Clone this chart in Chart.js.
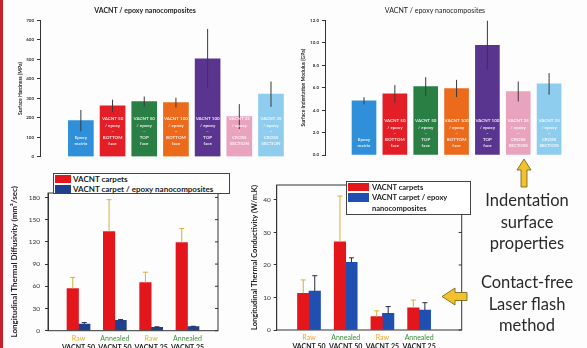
<!DOCTYPE html>
<html>
<head>
<meta charset="utf-8">
<script src="https://cdn.jsdelivr.net/npm/chart.js@4.4.1/dist/chart.umd.min.js"></script>
<style>
  body { margin: 0; background: #fff; font-family: Lato, "Open Sans", sans-serif; }
  #page { position: relative; width: 587px; height: 348px; overflow: hidden; background: #fdfdfd; }
  .stripe { position: absolute; left: 0; top: 0; width: 3px; height: 348px; background: #c8202c; }
  .box { position: absolute; }
  .legend { position: absolute; background: #fff; border: 1px solid #444; color: #222; font-weight: bold; }
  .legend .sw { position: absolute; }
  .legend .tx { position: absolute; white-space: nowrap; line-height: 1; }
  .side { position: absolute; left: 470px; width: 114px; text-align: center; color: #2a2a2a;
          font-size: 16.5px; line-height: 21.5px; }
  svg { position: absolute; left: 0; top: 0; }
</style>
</head>
<body>
<div id="page">
  <div class="stripe"></div>
  <div class="box" style="left:0;top:0;width:295px;height:165px"><canvas id="hardChart"></canvas></div>
  <div class="box" style="left:295px;top:0;width:287px;height:165px"><canvas id="modChart"></canvas></div>
  <div class="box" style="left:0;top:165px;width:250px;height:183px"><canvas id="diffChart"></canvas></div>
  <div class="box" style="left:250px;top:165px;width:225px;height:183px"><canvas id="condChart"></canvas></div>

  <div class="legend" style="left:53px;top:173px;width:175px;height:19px;font-size:8px">
    <div class="sw" style="left:1px;top:1px;width:16px;height:8px;background:#e3161c"></div>
    <div class="tx" style="left:19px;top:1px">VACNT carpets</div>
    <div class="sw" style="left:1px;top:11px;width:16px;height:8px;background:#1f3f8f"></div>
    <div class="tx" style="left:19px;top:11px">VACNT carpet / epoxy nanocomposites</div>
  </div>
  <div class="legend" style="left:346px;top:181px;width:123px;height:32px;font-size:7.5px">
    <div class="sw" style="left:1px;top:1px;width:21px;height:8px;background:#e3161c"></div>
    <div class="tx" style="left:25px;top:1.5px">VACNT carpets</div>
    <div class="sw" style="left:1px;top:11px;width:21px;height:9px;background:#1f4fb0"></div>
    <div class="tx" style="left:25px;top:12px">VACNT carpet / epoxy</div>
    <div class="tx" style="left:25px;top:22.5px">nanocomposites</div>
  </div>

  <div class="side" style="top:190px">Indentation<br>surface<br>properties</div>
  <div class="side" style="top:272px">Contact-free<br>Laser flash<br>method</div>

  <svg width="587" height="348">
    <polygon points="524,159 531,170 527,170 527,187 521,187 521,170 517,170"
             fill="#f2c12e" stroke="#6b5a1a" stroke-width="0.8"/>
    <polygon points="442,296.5 455,288 455,292.5 467,292.5 467,300.5 455,300.5 455,305"
             fill="#f2c12e" stroke="#6b5a1a" stroke-width="0.8"/>
  </svg>
</div>

<script>
// Indentation charts (7 samples)
const sampleLines = [
  ['Epoxy', 'matrix'],
  ['VACNT 50', '/ epoxy', '–', 'BOTTOM', 'face'],
  ['VACNT 50', '/ epoxy', '–', 'TOP', 'face'],
  ['VACNT 100', '/ epoxy', '–', 'BOTTOM', 'face'],
  ['VACNT 100', '/ epoxy', '–', 'TOP', 'face'],
  ['VACNT 25', '/ epoxy', '–', 'CROSS', 'SECTION'],
  ['VACNT 35', '/ epoxy', '–', 'CROSS', 'SECTION']
];
const sampleColors = ['#2f8fd8', '#e41e26', '#2a7f44', '#ec6a1c', '#5a3590', '#eaa3bd', '#8fcdef'];
const hardness = [185, 261, 283, 278, 503, 206, 321];
const hardnessErr = [55, 32, 26, 25, 153, 64, 65];
const modulus = [4.83, 5.45, 6.10, 5.93, 9.77, 5.66, 6.34];
const modulusErr = [0.32, 0.78, 0.84, 0.77, 2.2, 0.89, 0.96];

// Laser flash charts (4 samples)
const flashStates = ['Raw', 'Annealed', 'Raw', 'Annealed'];
const flashSamples = ['VACNT 50', 'VACNT 50', 'VACNT 25', 'VACNT 25'];
const diffCarpet = [57, 134, 65, 119];
const diffCarpetErr = [15, 43, 14, 19];
const diffComposite = [9, 14, 4.5, 5.4];
const diffCompositeErr = [2, 1, 0.8, 0.6];
const condCarpet = [11.3, 27.1, 4.1, 6.8];
const condCarpetErr = [4.1, 14.1, 1.8, 2.4];
const condComposite = [12.0, 20.8, 5.1, 6.1];
const condCompositeErr = [4.7, 1.4, 2.1, 2.3];

const points = arr => arr.map((v, i) => ({ x: i, y: v }));
const FONT = 'Lato, "Open Sans", sans-serif';

// error bars, drawn from the y scale
const errorBars = {
  id: 'errorBars',
  afterDatasetsDraw(chart) {
    const ctx = chart.ctx;
    const y = chart.scales.y;
    chart.data.datasets.forEach((ds, di) => {
      if (!ds.errors) return;
      chart.getDatasetMeta(di).data.forEach((bar, i) => {
        const v = ds.data[i].y, e = ds.errors[i];
        const top = y.getPixelForValue(v + e);
        const bot = ds.errorBoth ? y.getPixelForValue(v - e) : bar.y;
        ctx.save();
        ctx.strokeStyle = ds.errorColor;
        ctx.lineWidth = 1;
        ctx.beginPath();
        ctx.moveTo(bar.x, bot);
        ctx.lineTo(bar.x, top);
        if (ds.errorCap) {
          ctx.moveTo(bar.x - ds.errorCap, top);
          ctx.lineTo(bar.x + ds.errorCap, top);
        }
        ctx.stroke();
        ctx.restore();
      });
    });
  }
};

// white sample names inside the bars
const barText = {
  id: 'barText',
  afterDatasetsDraw(chart, args, opts) {
    if (!opts.lines) return;
    const ctx = chart.ctx;
    const base = chart.scales.y.getPixelForValue(0);
    ctx.save();
    ctx.fillStyle = 'rgba(255,255,255,0.85)';
    ctx.font = 'bold 4.5px ' + FONT;
    ctx.textAlign = 'center';
    ctx.textBaseline = 'middle';
    chart.getDatasetMeta(0).data.forEach((bar, i) => {
      const lines = opts.lines[i];
      lines.forEach((t, k) => {
        ctx.fillText(t, bar.x, base - opts.bottom - (lines.length - 1 - k) * opts.lineHeight);
      });
    });
    ctx.restore();
  }
};

// box around the plot + small ticks on the right side
const frame = {
  id: 'frame',
  afterDraw(chart, args, opts) {
    if (!opts.on) return;
    const { ctx, chartArea: a } = chart;
    const y = chart.scales.y;
    ctx.save();
    ctx.strokeStyle = '#333';
    ctx.lineWidth = 1;
    ctx.strokeRect(a.left, a.top, a.right - a.left, a.bottom - a.top);
    ctx.beginPath();
    y.ticks.forEach(t => {
      const py = y.getPixelForValue(t.value);
      ctx.moveTo(a.right - 3, py);
      ctx.lineTo(a.right, py);
    });
    ctx.stroke();
    ctx.restore();
  }
};

// one tick per sample index on a linear index axis
const indexTicks = n => s => { s.ticks = Array.from({ length: n }, (_, i) => ({ value: i })); };

function indentChart(id, values, errors, o) {
  return new Chart(document.getElementById(id), {
    type: 'bar',
    data: {
      datasets: [{
        data: points(values),
        backgroundColor: sampleColors,
        barThickness: o.barWidth,
        errors: errors,
        errorBoth: true,
        errorColor: '#3a3a3a'
      }]
    },
    options: {
      responsive: true,
      maintainAspectRatio: false,
      animation: false,
      layout: { padding: { left: 0, right: o.padRight, top: 0, bottom: o.padBottom } },
      plugins: {
        legend: { display: false },
        tooltip: { enabled: false },
        title: {
          display: true,
          text: 'VACNT / epoxy nanocomposites',
          color: '#222',
          font: { family: FONT, size: 7, weight: o.titleWeight },
          padding: { top: 7, bottom: 5 }
        },
        barText: { lines: sampleLines, bottom: o.textBottom, lineHeight: o.textStep }
      },
      scales: {
        x: { type: 'linear', display: false, offset: false, min: o.xMin, max: o.xMax },
        y: {
          min: 0, max: o.yMax,
          afterFit: s => { s.width = o.axisWidth; },
          border: { display: true, color: '#333', width: 1 },
          grid: { drawOnChartArea: false, tickLength: 3, color: '#333' },
          ticks: {
            stepSize: o.step,
            padding: 3,
            color: '#333',
            font: { family: FONT, size: 4.5, weight: 'bold' },
            callback: o.fmt
          },
          title: {
            display: true,
            text: o.yTitle,
            color: '#222',
            font: { family: FONT, size: 5, weight: 'bold' },
            padding: { top: o.titlePad, bottom: 0 }
          }
        }
      }
    },
    plugins: [errorBars, barText]
  });
}

indentChart('hardChart', hardness, hardnessErr, {
  barWidth: 25, padRight: 5, padBottom: 8.3, xMin: -1.29, xMax: 6.6,
  yMax: 700, step: 100, fmt: v => v, axisWidth: 40, titlePad: 17,
  yTitle: 'Surface Hardness (MPa)', titleWeight: 'bold', textBottom: 13, textStep: 6.2
});

indentChart('modChart', modulus, modulusErr, {
  barWidth: 24, padRight: 7, padBottom: 10, xMin: -1.265, xMax: 6.84,
  yMax: 12, step: 2, fmt: v => v.toFixed(1), axisWidth: 30, titlePad: 5,
  yTitle: 'Surface Indentation Modulus (GPa)', titleWeight: 'normal', textBottom: 9, textStep: 6.3
});

function flashChart(id, carpet, carpetErr, comp, compErr, o) {
  const stateColor = c => (c.tick && flashStates[c.tick.value] === 'Raw') ? '#f2a52a' : '#3c8c3c';
  const n = flashStates.length;
  return new Chart(document.getElementById(id), {
    type: 'bar',
    data: {
      datasets: [
        { label: 'VACNT carpets', data: points(carpet), backgroundColor: '#e3161c',
          barThickness: o.barWidth, errors: carpetErr, errorColor: '#d9ae3c', errorCap: 2.5 },
        { label: 'VACNT carpet / epoxy nanocomposites', data: points(comp), backgroundColor: o.blue,
          barThickness: o.barWidth, errors: compErr, errorColor: '#2a2a40', errorCap: 2.5 }
      ]
    },
    options: {
      responsive: true,
      maintainAspectRatio: false,
      animation: false,
      layout: { padding: { left: 0, right: o.padRight, top: o.padTop, bottom: 0 } },
      plugins: {
        legend: { display: false },
        tooltip: { enabled: false },
        frame: { on: true }
      },
      scales: {
        x: {
          type: 'linear', position: 'bottom', offset: false, min: o.xMin, max: o.xMax,
          afterBuildTicks: indexTicks(n),
          afterFit: s => { s.height = 10; },
          border: { display: false },
          grid: { display: false, drawTicks: false, tickLength: 0 },
          ticks: {
            maxRotation: 0, autoSkip: false, padding: 4,
            color: stateColor,
            font: { family: FONT, size: 7 },
            callback: v => flashStates[v] ?? ''
          }
        },
        x2: {
          type: 'linear', position: 'bottom', offset: false, min: o.xMin, max: o.xMax,
          afterBuildTicks: indexTicks(n),
          afterFit: s => { s.height = o.x2Height; },
          border: { display: false },
          grid: { display: false, drawTicks: false, tickLength: 0 },
          ticks: {
            maxRotation: 0, autoSkip: false, padding: 2.5,
            color: '#222',
            font: { family: FONT, size: 7, weight: 'bold' },
            callback: v => flashSamples[v] ?? ''
          }
        },
        y: {
          min: 0, max: o.yMax,
          afterFit: s => { s.width = o.axisWidth; },
          border: { display: true, color: '#333', width: 1 },
          grid: { drawOnChartArea: false, tickLength: 3, color: '#333' },
          ticks: {
            stepSize: o.step, includeBounds: false, padding: o.tickPad,
            color: '#333',
            font: { family: FONT, size: 6.5 }
          },
          title: {
            display: true,
            text: o.yTitle,
            color: '#222',
            font: { family: FONT, size: o.yTitleSize, weight: 'bold' },
            padding: { top: o.titlePad, bottom: 0 }
          }
        }
      }
    },
    plugins: [errorBars, frame]
  });
}

flashChart('diffChart', diffCarpet, diffCarpetErr, diffComposite, diffCompositeErr, {
  barWidth: 11.5, blue: '#1f3f8f', padRight: 32, padTop: 28, x2Height: 7.3,
  xMin: -0.84, xMax: 3.84, yMax: 186, step: 30, axisWidth: 48, tickPad: 5,
  yTitle: 'Longitudinal Thermal Diffusivity (mm²/sec)', yTitleSize: 8, titlePad: 10
});

flashChart('condChart', condCarpet, condCarpetErr, condComposite, condCompositeErr, {
  barWidth: 11.5, blue: '#1f4fb0', padRight: 13.3, padTop: 20, x2Height: 8,
  xMin: -0.88, xMax: 4.16, yMax: 44.6, step: 10, axisWidth: 26.7, tickPad: 3,
  yTitle: 'Longitudinal Thermal Conductivity (W/m.K)', yTitleSize: 7.5, titlePad: 0.5
});
</script>
</body>
</html>
